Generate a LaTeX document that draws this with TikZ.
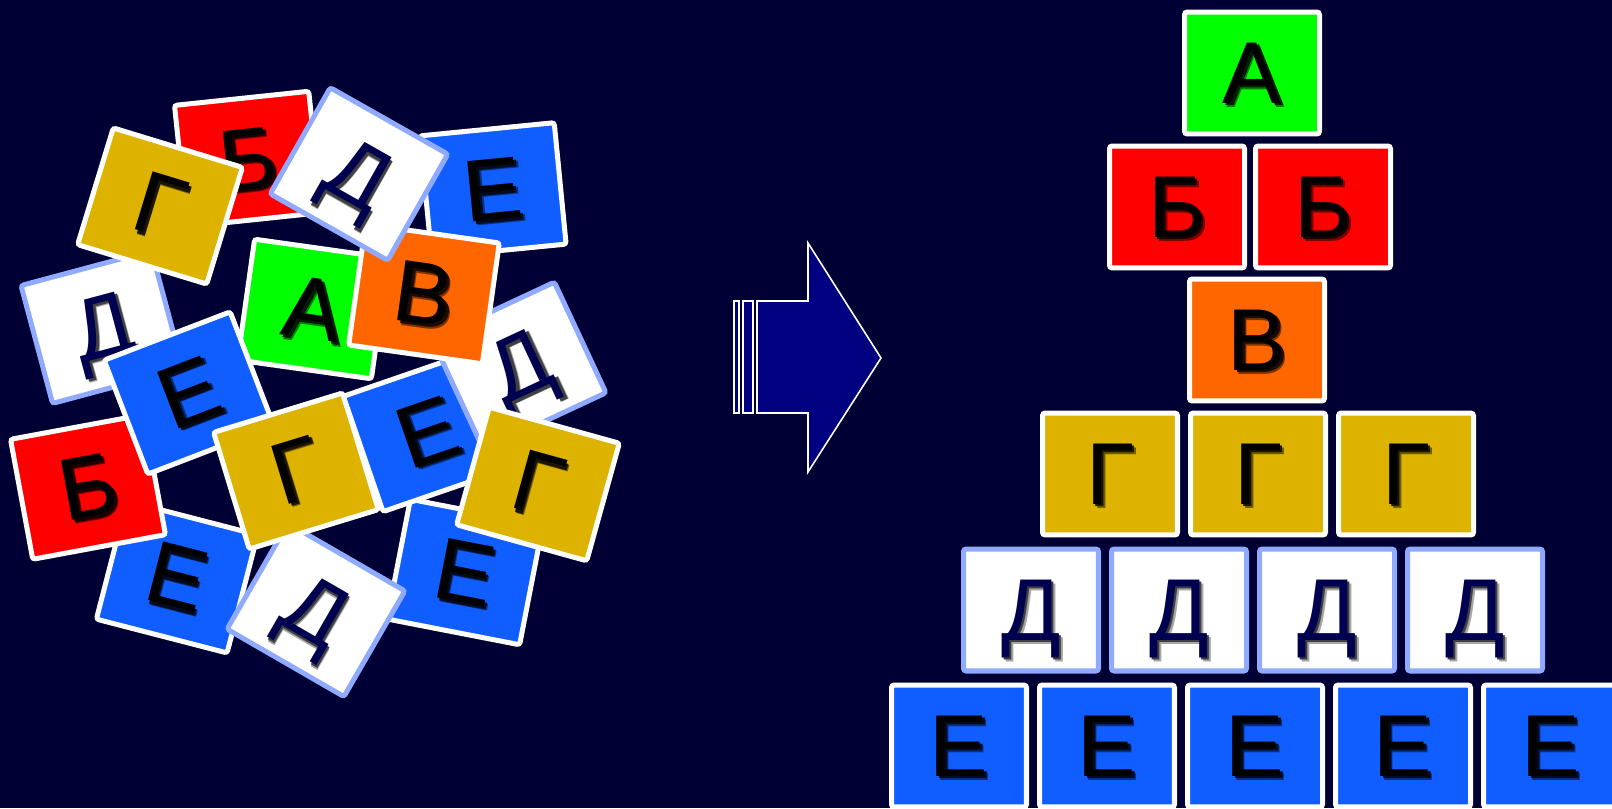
\documentclass[tikz,border=0pt]{standalone}
\usepackage{fontspec}
\setmainfont{Liberation Sans}
\usepackage{tikz}
\usetikzlibrary{positioning}
\definecolor{bgnavy}{RGB}{0,0,52}
\definecolor{tilegreen}{RGB}{0,255,0}
\definecolor{tilered}{RGB}{255,0,0}
\definecolor{tileorange}{RGB}{255,102,0}
\definecolor{tilegold}{RGB}{221,179,0}
\definecolor{tileblue}{RGB}{16,94,255}
\definecolor{tileedge}{RGB}{143,170,255}
\definecolor{letternavy}{RGB}{0,0,80}
\definecolor{arrownavy}{RGB}{0,0,128}
\newcommand{\shletter}[1]{\rlap{\kern2.2pt\raisebox{-2.2pt}{\textcolor{shadowl}{#1}}}\rlap{\kern1.5pt\raisebox{-1.5pt}{\textcolor{shadowc}{#1}}}#1}

\begin{document}
\begin{tikzpicture}[x=0.02cm, y=-0.02cm,
    tile/.style={draw=white, line width=2.85pt, rounded corners=1.5pt,
                 minimum width=2.7cm, minimum height=2.44cm, inner sep=0pt,
                 text depth=0pt, font=\fontsize{50}{50}\selectfont},
    greentile/.style={tile, fill=tilegreen, execute at begin node={\colorlet{shadowc}{tilegreen!12!black}\colorlet{shadowl}{tilegreen!50!black}}},
    redtile/.style={tile, fill=tilered, execute at begin node={\colorlet{shadowc}{tilered!12!black}\colorlet{shadowl}{tilered!50!black}}},
    orangetile/.style={tile, fill=tileorange, execute at begin node={\colorlet{shadowc}{tileorange!12!black}\colorlet{shadowl}{tileorange!50!black}}},
    goldtile/.style={tile, fill=tilegold, execute at begin node={\colorlet{shadowc}{tilegold!12!black}\colorlet{shadowl}{tilegold!50!black}}},
    bluetile/.style={tile, fill=tileblue, execute at begin node={\colorlet{shadowc}{tileblue!12!black}\colorlet{shadowl}{tileblue!50!black}}},
    dtile/.style={tile, draw=tileedge, fill=white, text=letternavy,
                  execute at begin node={\colorlet{shadowc}{black!75}\colorlet{shadowl}{black!35}}},
    arrowline/.style={draw=white, line width=0.9pt, fill=arrownavy}
]
    \clip (0,0) rectangle (1612,808);
    \fill[bgnavy] (0,0) rectangle (1612,808);

    % the heap of tiles, from bottom to top
    \node[redtile, rotate=6] (b1) at (248,159) {\shletter{Б}};
    \node[bluetile, rotate=5.6] (e1) at (493,190) {\shletter{Е}};
    \node[dtile, rotate=15] (d1) at (102,327) {\shletter{Д}};
    \node[goldtile, rotate=-17] (g1) at (160,206) {\shletter{Г}};
    \node[greentile, rotate=-8] (a1) at (313,309) {\shletter{А}};
    \node[bluetile, rotate=-14.5] (e2) at (177,577) {\shletter{Е}};
    \node[redtile, rotate=10.5] (b2) at (88,487) {\shletter{Б}};
    \node[bluetile, rotate=21] (e3) at (189,393) {\shletter{Е}};
    \node[bluetile, rotate=-11] (e4) at (465,572) {\shletter{Е}};
    \node[dtile, rotate=-30] (d2) at (316,610) {\shletter{Д}};
    \node[goldtile, rotate=17] (g2) at (296,471) {\shletter{Г}};
    \node[bluetile, rotate=19] (e5) at (427,432) {\shletter{Е}};
    \node[dtile, rotate=25] (d3) at (519,366) {\shletter{Д}};
    \node[orangetile, rotate=-8] (v1) at (424,294) {\shletter{В}};
    \node[dtile, rotate=-29.5] (d4) at (359,174) {\shletter{Д}};
    \node[goldtile, rotate=-15.5] (g3) at (538,484) {\shletter{Г}};

    % arrow
    \draw[arrowline] (734,301) rectangle (739,413);
    \draw[arrowline] (743,301) rectangle (753,413);
    \draw[arrowline] (757,301) -- (808,301) -- (808,243) -- (881,358)
        -- (808,472) -- (808,413) -- (757,413) -- cycle;

    % the pyramid
    \node[greentile] (pa) at (1252,73) {\shletter{А}};
    \node[redtile] (pb1) at (1177,207) {\shletter{Б}};
    \node[redtile] (pb2) at (1323,207) {\shletter{Б}};
    \node[orangetile] (pv) at (1257,340) {\shletter{В}};
    \node[goldtile] (pg1) at (1110,474) {\shletter{Г}};
    \node[goldtile] (pg2) at (1258,474) {\shletter{Г}};
    \node[goldtile] (pg3) at (1406,474) {\shletter{Г}};
    \node[dtile] (pd1) at (1031,610) {\shletter{Д}};
    \node[dtile] (pd2) at (1179,610) {\shletter{Д}};
    \node[dtile] (pd3) at (1327,610) {\shletter{Д}};
    \node[dtile] (pd4) at (1475,610) {\shletter{Д}};
    \node[bluetile] (pe1) at (959,746) {\shletter{Е}};
    \node[bluetile] (pe2) at (1107,746) {\shletter{Е}};
    \node[bluetile] (pe3) at (1255,746) {\shletter{Е}};
    \node[bluetile] (pe4) at (1403,746) {\shletter{Е}};
    \node[bluetile] (pe5) at (1551,746) {\shletter{Е}};
\end{tikzpicture}
\end{document}
